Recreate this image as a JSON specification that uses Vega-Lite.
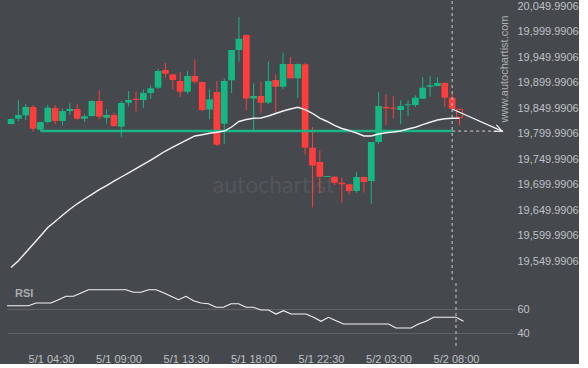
{
  "$schema": "https://vega.github.io/schema/vega-lite/v6.json",
  "background": "#45484d",
  "padding": {"left": 7, "top": 0, "right": 0, "bottom": 0},
  "config": {
    "view": {"stroke": null},
    "concat": {"spacing": 0},
    "axis": {"domain": false, "ticks": false, "tickSize": 0, "grid": false, "labelFont": "Liberation Sans", "labelFontSize": 11, "labelColor": "#bfc1c4", "labelOverlap": false}
  },
  "datasets": {
    "candles": [
      {"i":0,"o":19818.9,"h":19829.7,"l":19817.9,"c":19828.7,"ma":19537.8,"rsi":62.75},
      {"i":1,"o":19829.3,"h":19865.9,"l":19824.8,"c":19836.5,"ma":19551.0,"rsi":62.75},
      {"i":2,"o":19835.9,"h":19857.5,"l":19826.1,"c":19852.2,"ma":19567.2,"rsi":62.75},
      {"i":3,"o":19852.2,"h":19856.1,"l":19803.8,"c":19809.7,"ma":19583.5,"rsi":62.75},
      {"i":4,"o":19807.7,"h":19822.8,"l":19805.2,"c":19822.8,"ma":19599.7,"rsi":65},
      {"i":5,"o":19822.8,"h":19856.1,"l":19819.5,"c":19850.8,"ma":19616.2,"rsi":65},
      {"i":6,"o":19850.2,"h":19856.1,"l":19818.3,"c":19824.8,"ma":19628.1,"rsi":65},
      {"i":7,"o":19824.8,"h":19848.9,"l":19816.3,"c":19844.3,"ma":19640.1,"rsi":67.75},
      {"i":8,"o":19844.3,"h":19859.4,"l":19836.5,"c":19848.3,"ma":19652.0,"rsi":70.6},
      {"i":9,"o":19848.3,"h":19857.5,"l":19826.1,"c":19829.3,"ma":19662.6,"rsi":70.6},
      {"i":10,"o":19829.3,"h":19837.9,"l":19823.4,"c":19834.0,"ma":19672.0,"rsi":73.3},
      {"i":11,"o":19834.6,"h":19864.9,"l":19833.6,"c":19863.9,"ma":19681.0,"rsi":76.1},
      {"i":12,"o":19863.9,"h":19884.9,"l":19828.1,"c":19833.2,"ma":19690.2,"rsi":76.1},
      {"i":13,"o":19831.2,"h":19847.7,"l":19819.5,"c":19836.5,"ma":19698.4,"rsi":76.1},
      {"i":14,"o":19836.5,"h":19841.0,"l":19813.0,"c":19815.0,"ma":19706.9,"rsi":76.1},
      {"i":15,"o":19813.6,"h":19863.9,"l":19792.4,"c":19860.0,"ma":19715.1,"rsi":76.1},
      {"i":16,"o":19860.6,"h":19883.5,"l":19853.2,"c":19865.9,"ma":19723.3,"rsi":76.1},
      {"i":17,"o":19868.4,"h":19882.5,"l":19843.4,"c":19865.9,"ma":19731.5,"rsi":73.9},
      {"i":18,"o":19865.9,"h":19886.5,"l":19850.2,"c":19879.6,"ma":19739.8,"rsi":73.9},
      {"i":19,"o":19879.6,"h":19894.3,"l":19867.9,"c":19888.8,"ma":19748.2,"rsi":76.1},
      {"i":20,"o":19890.0,"h":19926.6,"l":19887.4,"c":19922.7,"ma":19757.0,"rsi":76.1},
      {"i":21,"o":19924.6,"h":19938.4,"l":19909.6,"c":19917.4,"ma":19766.0,"rsi":73.5},
      {"i":22,"o":19916.2,"h":19916.8,"l":19886.8,"c":19905.1,"ma":19773.5,"rsi":70.6},
      {"i":23,"o":19903.1,"h":19920.7,"l":19871.8,"c":19882.1,"ma":19780.9,"rsi":67.75},
      {"i":24,"o":19882.1,"h":19922.7,"l":19878.2,"c":19912.9,"ma":19788.1,"rsi":70.6},
      {"i":25,"o":19912.9,"h":19945.6,"l":19898.2,"c":19901.7,"ma":19795.4,"rsi":66.9},
      {"i":26,"o":19901.1,"h":19902.1,"l":19844.3,"c":19846.3,"ma":19797.9,"rsi":65},
      {"i":27,"o":19847.3,"h":19886.8,"l":19828.1,"c":19867.3,"ma":19800.7,"rsi":64.4},
      {"i":28,"o":19881.6,"h":19903.1,"l":19775.8,"c":19778.3,"ma":19802.8,"rsi":61.4},
      {"i":29,"o":19819.5,"h":19908.0,"l":19779.1,"c":19903.1,"ma":19805.2,"rsi":61.4},
      {"i":30,"o":19904.5,"h":19963.8,"l":19879.6,"c":19963.8,"ma":19813.0,"rsi":64.4},
      {"i":31,"o":19963.8,"h":20028.4,"l":19940.9,"c":19986.0,"ma":19823.8,"rsi":64.4},
      {"i":32,"o":19993.2,"h":19994.2,"l":19845.7,"c":19868.8,"ma":19827.7,"rsi":61.4},
      {"i":33,"o":19868.8,"h":19898.2,"l":19805.2,"c":19873.7,"ma":19830.1,"rsi":61.4},
      {"i":34,"o":19873.7,"h":19902.1,"l":19839.5,"c":19860.6,"ma":19830.6,"rsi":59.2},
      {"i":35,"o":19860.6,"h":19941.3,"l":19858.1,"c":19903.1,"ma":19834.6,"rsi":59.2},
      {"i":36,"o":19905.1,"h":19916.2,"l":19841.4,"c":19891.9,"ma":19839.5,"rsi":55.8},
      {"i":37,"o":19891.9,"h":19958.9,"l":19886.8,"c":19936.4,"ma":19844.3,"rsi":58.6},
      {"i":38,"o":19936.4,"h":19950.1,"l":19908.0,"c":19908.4,"ma":19848.3,"rsi":55.8},
      {"i":39,"o":19908.4,"h":19937.4,"l":19869.8,"c":19936.4,"ma":19851.6,"rsi":55.8},
      {"i":40,"o":19935.8,"h":19937.8,"l":19759.5,"c":19772.5,"ma":19846.9,"rsi":55.8},
      {"i":41,"o":19772.5,"h":19813.0,"l":19655.4,"c":19737.6,"ma":19839.8,"rsi":53.1},
      {"i":42,"o":19744.5,"h":19768.0,"l":19683.8,"c":19715.7,"ma":19830.6,"rsi":49.75},
      {"i":43,"o":19715.1,"h":19717.0,"l":19715.1,"c":19717.0,"ma":19823.8,"rsi":53.1},
      {"i":44,"o":19715.7,"h":19716.1,"l":19699.4,"c":19703.9,"ma":19816.0,"rsi":50.25},
      {"i":45,"o":19703.9,"h":19713.1,"l":19664.8,"c":19700.8,"ma":19810.1,"rsi":47.5},
      {"i":46,"o":19700.8,"h":19701.4,"l":19681.2,"c":19687.7,"ma":19806.2,"rsi":47.5},
      {"i":47,"o":19687.7,"h":19724.9,"l":19683.8,"c":19715.1,"ma":19801.3,"rsi":47.5},
      {"i":48,"o":19715.1,"h":19716.1,"l":19684.7,"c":19705.3,"ma":19795.4,"rsi":47.5},
      {"i":49,"o":19707.3,"h":19783.6,"l":19662.8,"c":19783.6,"ma":19795.4,"rsi":47.5},
      {"i":50,"o":19783.6,"h":19881.6,"l":19779.1,"c":19854.1,"ma":19799.3,"rsi":47.5},
      {"i":51,"o":19852.2,"h":19877.1,"l":19816.9,"c":19849.6,"ma":19801.7,"rsi":47.5},
      {"i":52,"o":19850.8,"h":19873.7,"l":19830.1,"c":19848.9,"ma":19803.2,"rsi":44.2},
      {"i":53,"o":19846.3,"h":19865.3,"l":19818.3,"c":19854.1,"ma":19805.2,"rsi":44.2},
      {"i":54,"o":19855.5,"h":19865.3,"l":19834.6,"c":19857.5,"ma":19809.1,"rsi":44.2},
      {"i":55,"o":19856.1,"h":19875.1,"l":19852.2,"c":19870.4,"ma":19812.6,"rsi":47.5},
      {"i":56,"o":19868.4,"h":19910.9,"l":19867.9,"c":19890.0,"ma":19817.7,"rsi":49.75},
      {"i":57,"o":19891.9,"h":19912.9,"l":19872.4,"c":19894.7,"ma":19822.4,"rsi":53.1},
      {"i":58,"o":19893.3,"h":19910.9,"l":19892.3,"c":19899.2,"ma":19826.7,"rsi":53.1},
      {"i":59,"o":19899.2,"h":19901.1,"l":19852.8,"c":19870.4,"ma":19829.3,"rsi":53.1},
      {"i":60,"o":19870.4,"h":19879.6,"l":19848.3,"c":19848.9,"ma":19830.1,"rsi":53.1},
      {"i":61,"o":19847.7,"h":19848.3,"l":19816.3,"c":19831.2,"ma":19830.1,"rsi":49.75}
    ],
    "support": [{"i":4,"p":19805},{"i":60,"p":19805}],
    "projection": [{"i":60,"p":19805},{"i":67.3,"p":19805}],
    "arrow": [{"i":60,"p":19848.3},{"i":66.8,"p":19805}],
    "one": [{}]
  },
  "vconcat": [
    {
      "width": 506,
      "height": 280,
      "layer": [
        {
          "data": {"name": "one"},
          "mark": {"type": "text", "text": "autochartist", "font": "Lato", "fontSize": 23, "color": "#53565b", "align": "center", "baseline": "middle"},
          "encoding": {
            "x": {"datum": 35.7, "type": "quantitative", "scale": {"domain": [0.13, 67.6], "nice": false, "zero": false}, "axis": null},
            "y": {"datum": 19697.5, "type": "quantitative", "scale": {"domain": [19511.4, 20059.8], "nice": false, "zero": false}}
          }
        },
        {
          "data": {"name": "candles"},
          "transform": [{"filter": "datum.i < 61"}],
          "mark": {"type": "rule", "strokeWidth": 1, "clip": true},
          "encoding": {
            "x": {"field": "i", "type": "quantitative", "scale": {"domain": [0.13, 67.6], "nice": false, "zero": false}, "axis": null},
            "y": {"field": "l", "type": "quantitative", "scale": {"domain": [19511.4, 20059.8], "nice": false, "zero": false},
                  "axis": {"orient": "right", "title": null, "tickCount": 20, "values": [19549.9906, 19599.9906, 19649.9906, 19699.9906, 19749.9906, 19799.9906, 19849.9906, 19899.9906, 19949.9906, 19999.9906, 20049.9906], "format": ",.4f", "labelPadding": 4}},
            "y2": {"field": "h"},
            "color": {"condition": {"test": "datum.c >= datum.o", "value": "#15b882"}, "value": "#ff3d3d"}
          }
        },
        {
          "data": {"name": "candles"},
          "transform": [{"filter": "datum.i < 61"}],
          "mark": {"type": "bar", "width": 6.7, "clip": true},
          "encoding": {
            "x": {"field": "i", "type": "quantitative"},
            "y": {"field": "o", "type": "quantitative"},
            "y2": {"field": "c"},
            "color": {"condition": {"test": "datum.c >= datum.o", "value": "#15b882"}, "value": "#ff3d3d"}
          }
        },
        {
          "data": {"name": "candles"},
          "transform": [{"filter": "datum.i == 61"}],
          "mark": {"type": "rule", "strokeWidth": 1, "color": "#ff3d3d"},
          "encoding": {
            "x": {"field": "i", "type": "quantitative"},
            "y": {"field": "l", "type": "quantitative"},
            "y2": {"field": "h"}
          }
        },
        {
          "data": {"name": "candles"},
          "transform": [{"filter": "datum.i == 61"}],
          "mark": {"type": "bar", "width": 6, "fill": "#45484d", "stroke": "#ff3d3d", "strokeWidth": 1},
          "encoding": {
            "x": {"field": "i", "type": "quantitative"},
            "y": {"field": "o", "type": "quantitative"},
            "y2": {"field": "c"}
          }
        },
        {
          "data": {"name": "support"},
          "mark": {"type": "line", "color": "#1ab583", "strokeWidth": 2.5},
          "encoding": {
            "x": {"field": "i", "type": "quantitative"},
            "y": {"field": "p", "type": "quantitative"}
          }
        },
        {
          "data": {"name": "projection"},
          "mark": {"type": "line", "color": "#d0d0d0", "strokeWidth": 1, "strokeDash": [3, 3]},
          "encoding": {
            "x": {"field": "i", "type": "quantitative"},
            "y": {"field": "p", "type": "quantitative"}
          }
        },
        {
          "data": {"name": "candles"},
          "mark": {"type": "line", "color": "#f2f2f2", "strokeWidth": 1.4, "clip": true},
          "encoding": {
            "x": {"field": "i", "type": "quantitative"},
            "y": {"field": "ma", "type": "quantitative"}
          }
        },
        {
          "data": {"name": "arrow"},
          "mark": {"type": "line", "color": "#f2f2f2", "strokeWidth": 1.2},
          "encoding": {
            "x": {"field": "i", "type": "quantitative"},
            "y": {"field": "p", "type": "quantitative"}
          }
        },
        {
          "data": {"name": "one"},
          "mark": {"type": "point", "shape": "M-1,-0.45L0,0L-1,0.45", "filled": false, "stroke": "#f2f2f2", "strokeWidth": 1.2, "size": 240, "angle": 23, "opacity": 1},
          "encoding": {
            "x": {"datum": 66.8, "type": "quantitative"},
            "y": {"datum": 19805, "type": "quantitative"}
          }
        },
        {
          "data": {"name": "one"},
          "mark": {"type": "rule", "color": "#cdcdcd", "strokeWidth": 1, "strokeDash": [3, 3]},
          "encoding": {
            "x": {"datum": 60, "type": "quantitative"}
          }
        },
        {
          "data": {"name": "one"},
          "mark": {"type": "text", "text": "www.autochartist.com", "font": "Liberation Sans", "fontSize": 11, "color": "#aeb0b3", "angle": 270, "align": "center", "baseline": "middle"},
          "encoding": {
            "x": {"datum": 67.2, "type": "quantitative"},
            "y": {"datum": 19926.6, "type": "quantitative"}
          }
        }
      ]
    },
    {
      "width": 506,
      "height": 66,
      "layer": [
        {
          "data": {"name": "candles"},
          "mark": {"type": "line", "color": "#f2f2f2", "strokeWidth": 1.1, "clip": true},
          "encoding": {
            "x": {"field": "i", "type": "quantitative", "scale": {"domain": [0.13, 67.6], "nice": false, "zero": false},
                  "axis": {"orient": "bottom", "title": null, "tickCount": 20, "values": [6, 15, 24, 33, 42, 51, 60], "labelPadding": 4, "labelFlush": false,
                           "labelExpr": "['5/1 04:30','5/1 09:00','5/1 13:30','5/1 18:00','5/1 22:30','5/2 03:00','5/2 08:00'][indexof([6,15,24,33,42,51,60], datum.value)]"}},
            "y": {"field": "rsi", "type": "quantitative", "scale": {"domain": [26.67, 81.67], "nice": false, "zero": false},
                  "axis": {"orient": "right", "title": null, "tickCount": 5, "values": [40, 60], "labelPadding": 4, "grid": true, "gridColor": "#5e6166", "gridWidth": 1}}
          }
        },
        {
          "data": {"name": "one"},
          "mark": {"type": "rule", "color": "#cdcdcd", "strokeWidth": 1, "strokeDash": [3, 3]},
          "encoding": {
            "x": {"datum": 60, "type": "quantitative"}
          }
        },
        {
          "data": {"name": "one"},
          "mark": {"type": "text", "text": "RSI", "font": "Liberation Sans", "fontSize": 11, "fontWeight": "bold", "color": "#a9abae", "align": "left", "baseline": "middle"},
          "encoding": {
            "x": {"datum": 1.2, "type": "quantitative"},
            "y": {"datum": 72.5, "type": "quantitative"}
          }
        }
      ]
    }
  ]
}
